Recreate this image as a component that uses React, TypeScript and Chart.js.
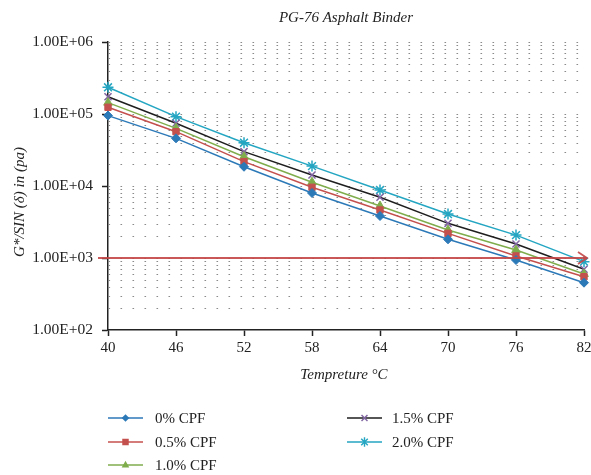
import React, { useEffect, useRef } from 'react';
import { Chart, registerables } from 'chart.js';

Chart.register(...registerables);

const temps = [40, 46, 52, 58, 64, 70, 76, 82];
const cpf0 = [95000, 45900, 18500, 8000, 3830, 1817, 938, 454];
const cpf05 = [124000, 56800, 21800, 9600, 4640, 2200, 1067, 550];
const cpf10 = [143700, 63200, 25500, 11300, 5270, 2450, 1290, 600];
const cpf15 = [173800, 74300, 30000, 14200, 6970, 3030, 1564, 697];
const cpf20 = [235000, 91900, 39900, 18900, 8800, 4080, 2080, 890];
const seriesLabels = ['0% CPF', '0.5% CPF', '1.0% CPF', '1.5% CPF', '2.0% CPF'];
const yTickValues = [100, 1000, 10000, 100000, 1000000];
const xTickValues = [40, 46, 52, 58, 64, 70, 76, 82];
const thresholdValue = 1000;
const titleText = 'PG-76 Asphalt Binder';
const xTitleText = 'Tempreture °C';
const yTitleText = 'G*/SIN (δ) in (pa)';

const SERIF = '"Liberation Serif", "DejaVu Serif", serif';

const styles = [
  { line: '#2c79b8', fill: '#2c79b8', shape: 'rectRot', r: 4.5 },
  { line: '#c4504e', fill: '#c4504e', shape: 'rect', r: 4.5 },
  { line: '#7fad4c', fill: '#7fad4c', shape: 'triangle', r: 5 },
  { line: '#1e1e1e', fill: '#8064a2', shape: 'crossRot', r: 5 },
  { line: '#24a6c2', fill: '#24a6c2', shape: 'star', r: 5.5 },
];

const fmtExp = (v: number) => {
  const e = Math.round(Math.log10(v));
  return '1.00E+' + (e < 10 ? '0' + e : String(e));
};

function drawPoint(ctx: CanvasRenderingContext2D, shape: string, r: number, x: number, y: number, color: string) {
  ctx.save();
  ctx.fillStyle = color;
  ctx.strokeStyle = color;
  ctx.lineWidth = 1.4;
  ctx.beginPath();
  if (shape === 'rectRot') {
    ctx.moveTo(x, y - r);
    ctx.lineTo(x + r, y);
    ctx.lineTo(x, y + r);
    ctx.lineTo(x - r, y);
    ctx.closePath();
    ctx.fill();
  } else if (shape === 'rect') {
    const s = r * 0.85;
    ctx.rect(x - s, y - s, 2 * s, 2 * s);
    ctx.fill();
  } else if (shape === 'triangle') {
    ctx.moveTo(x, y - r);
    ctx.lineTo(x + r * 0.9, y + r * 0.6);
    ctx.lineTo(x - r * 0.9, y + r * 0.6);
    ctx.closePath();
    ctx.fill();
  } else if (shape === 'crossRot') {
    const s = r * 0.7;
    ctx.moveTo(x - s, y - s);
    ctx.lineTo(x + s, y + s);
    ctx.moveTo(x + s, y - s);
    ctx.lineTo(x - s, y + s);
    ctx.stroke();
  } else {
    const s = r * 0.7;
    ctx.moveTo(x - s, y - s);
    ctx.lineTo(x + s, y + s);
    ctx.moveTo(x + s, y - s);
    ctx.lineTo(x - s, y + s);
    ctx.moveTo(x, y - r);
    ctx.lineTo(x, y + r);
    ctx.stroke();
  }
  ctx.restore();
}

const decorPlugin = {
  id: 'decor',
  beforeDatasetsDraw(chart: any) {
    const { ctx, chartArea, scales } = chart;
    const y = scales.y;
    ctx.save();
    ctx.strokeStyle = '#8a8a8a';
    ctx.lineWidth = 1.2;
    ctx.setLineDash([1.6, 10.4]);
    for (let e = 2; e <= 6; e++) {
      for (let m = 1; m <= 9; m++) {
        const v = m * Math.pow(10, e);
        if (v > 1000000 || v === 100) continue;
        const py = Math.round(y.getPixelForValue(v)) + 0.5;
        ctx.beginPath();
        ctx.moveTo(chartArea.left + 0.5, py);
        ctx.lineTo(chartArea.right, py);
        ctx.stroke();
      }
    }
    ctx.restore();
  },
  afterDatasetsDraw(chart: any) {
    const { ctx, chartArea, scales } = chart;
    const y = scales.y;
    const py = y.getPixelForValue(thresholdValue);
    ctx.save();
    ctx.strokeStyle = 'rgba(196, 70, 70, 0.9)';
    ctx.lineWidth = 2.2;
    ctx.beginPath();
    ctx.moveTo(chartArea.left - 10, py);
    ctx.lineTo(chartArea.right + 3, py);
    ctx.stroke();
    ctx.lineWidth = 1.8;
    ctx.beginPath();
    ctx.moveTo(chartArea.right - 6, py - 6);
    ctx.lineTo(chartArea.right + 3, py);
    ctx.lineTo(chartArea.right - 6, py + 6);
    ctx.stroke();
    ctx.restore();
  },
  afterDraw(chart: any) {
    const { ctx, chartArea } = chart;
    const cx = (chartArea.left + chartArea.right) / 2;
    ctx.save();
    ctx.fillStyle = '#222';
    ctx.textAlign = 'center';
    ctx.textBaseline = 'middle';
    ctx.font = 'italic 15px ' + SERIF;
    ctx.fillText(titleText, cx, 18);
    ctx.fillText(xTitleText, cx - 2, 375);
    ctx.save();
    ctx.translate(20, 202);
    ctx.rotate(-Math.PI / 2);
    ctx.fillText(yTitleText, 0, 0);
    ctx.restore();

    // legend
    ctx.font = '15px ' + SERIF;
    ctx.textAlign = 'left';
    const cols = [
      { lx: 108, tx: 155 },
      { lx: 347, tx: 392 },
    ];
    const rows = [418, 442, 465];
    const placement = [
      [0, 0], [0, 1], [0, 2], [1, 0], [1, 1],
    ];
    chart.data.datasets.forEach((ds: any, i: number) => {
      const [c, r] = placement[i];
      const col = cols[c];
      const ly = rows[r];
      ctx.strokeStyle = ds.borderColor;
      ctx.lineWidth = 1.6;
      ctx.beginPath();
      ctx.moveTo(col.lx, ly);
      ctx.lineTo(col.lx + 35, ly);
      ctx.stroke();
      const st = styles[i];
      drawPoint(ctx, st.shape, st.r * 0.85, col.lx + 17.5, ly, st.fill);
      ctx.fillStyle = '#222';
      ctx.fillText(ds.label, col.tx, ly + 1);
    });
    ctx.restore();
  },
};

export default function App() {
  const ref = useRef<HTMLCanvasElement>(null);
  useEffect(() => {
    document.body.style.margin = '0';
    const seriesData = [cpf0, cpf05, cpf10, cpf15, cpf20];
    const chart = new Chart(ref.current as HTMLCanvasElement, {
      type: 'line',
      data: {
        datasets: seriesData.map((arr, i) => ({
          label: seriesLabels[i],
          data: arr.map((v, j) => ({ x: temps[j], y: v })),
          borderColor: styles[i].line,
          backgroundColor: styles[i].fill,
          pointBorderColor: styles[i].fill,
          pointBackgroundColor: styles[i].fill,
          pointStyle: styles[i].shape as any,
          pointRadius: styles[i].r,
          pointBorderWidth: i >= 3 ? 1.5 : 1,
          borderWidth: 1.5,
          tension: 0,
          clip: false as any,
        })),
      },
      options: {
        animation: false,
        responsive: false,
        layout: { padding: { top: 42, right: 5, left: 0, bottom: 87 } },
        plugins: {
          legend: { display: false },
          title: { display: false },
          tooltip: { enabled: false },
        },
        scales: {
          x: {
            type: 'linear',
            min: 40,
            max: 82,
            afterBuildTicks: (s: any) => {
              s.ticks = xTickValues.map((v) => ({ value: v }));
            },
            afterFit: (s: any) => {
              s.height = 58;
              s.paddingLeft = 0;
              s.paddingRight = 0;
            },
            ticks: {
              autoSkip: false,
              maxRotation: 0,
              color: '#222',
              font: { family: SERIF, size: 15 },
              padding: 3,
            },
            grid: {
              drawOnChartArea: false,
              drawTicks: true,
              tickLength: 6,
              tickColor: '#222',
              tickWidth: 1.5,
            },
            border: { display: true, color: '#222', width: 1.5 },
          },
          y: {
            type: 'logarithmic',
            min: 100,
            max: 1000000,
            afterBuildTicks: (s: any) => {
              s.ticks = yTickValues.map((v) => ({ value: v, major: true }));
            },
            afterFit: (s: any) => {
              s.width = 108;
              s.paddingTop = 0;
              s.paddingBottom = 0;
            },
            ticks: {
              autoSkip: false,
              color: '#222',
              font: { family: SERIF, size: 15.5 },
              padding: 9,
              callback: (v: any) => fmtExp(Number(v)),
            },
            grid: {
              drawOnChartArea: false,
              drawTicks: true,
              tickLength: 6,
              tickColor: '#222',
              tickWidth: 1.5,
            },
            border: { display: true, color: '#222', width: 1.5 },
          },
        },
      },
      plugins: [decorPlugin],
    });
    return () => chart.destroy();
  }, []);
  return (
    <div style={{ width: 591, height: 475 }}>
      <canvas ref={ref} width={591} height={475} style={{ display: 'block', width: 591, height: 475 }} />
    </div>
  );
}
